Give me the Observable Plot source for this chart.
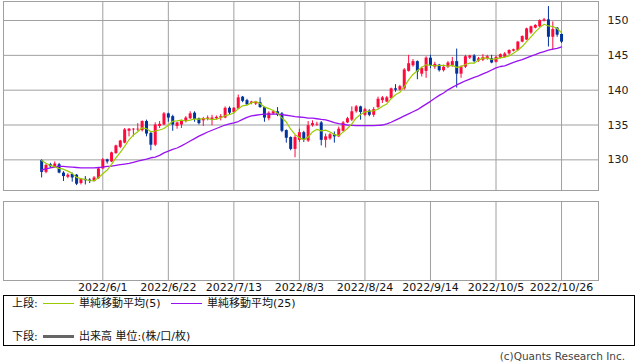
<!DOCTYPE html>
<html>
<head>
<meta charset="utf-8">
<script src="https://cdn.jsdelivr.net/npm/d3@7"></script>
<script src="https://cdn.jsdelivr.net/npm/@observablehq/plot@0.6"></script>
<style>
  html, body { margin: 0; padding: 0; background: #fff; }
  #wrap { position: relative; width: 638px; height: 362px; overflow: hidden; }
  #wrap svg { display: block; }
  .legend { position: absolute; left: 3px; top: 295px; width: 630px; height: 49px; border: 1px solid #000; box-sizing: content-box; font-family: "DejaVu Sans", "Noto Sans CJK JP", sans-serif; font-size: 11px; color: #111; }
  .lg { position: absolute; white-space: nowrap; line-height: 14px; }
  .sw { position: absolute; }
  .copy { position: absolute; right: 13px; top: 350px; font-family: "DejaVu Sans", sans-serif; font-size: 10.5px; color: #444; white-space: nowrap; }
</style>
</head>
<body>
<div id="wrap"></div>
<script>
// ---- data (daily candles, trading-day index 0 = first bar) ----
const open = [129.9,128.2,129.3,129.0,129.3,128.1,127.5,127.9,127.8,126.6,
127.2,127.1,126.9,127.3,128.7,130.0,129.7,130.9,131.8,132.4,
134.1,134.3,134.3,134.2,135.5,133.8,132.1,134.8,135.0,136.6,
136.2,134.8,135.0,135.5,135.9,136.7,135.9,135.6,135.8,135.8,
135.9,136.0,136.0,137.4,136.8,137.3,139.0,138.5,138.1,138.0,
138.2,137.5,135.9,136.6,136.9,136.6,134.2,133.2,131.5,132.8,
133.9,132.7,134.9,135.0,135.3,132.8,133.0,133.6,133.3,134.1,
135.3,135.7,136.9,137.6,136.4,137.0,136.4,137.5,138.5,138.3,
138.8,140.2,140.0,140.2,142.7,143.5,144.1,142.3,142.7,144.6,
143.3,143.6,142.8,143.3,143.5,144.1,142.3,143.3,144.6,144.9,
144.2,144.3,144.5,144.5,144.0,144.6,144.7,145.2,145.6,145.7,
146.9,147.2,148.2,148.9,149.1,149.9,150.1,147.6,148.9,148.0];

const high = [130.0,129.4,129.5,129.7,129.5,128.3,128.0,128.1,127.9,127.3,
127.6,127.3,127.6,128.8,130.2,130.1,131.1,132.1,132.8,134.5,
134.5,134.5,135.2,135.6,135.7,134.0,135.3,135.5,136.8,136.7,
136.4,135.4,135.7,136.2,136.9,136.9,136.0,136.1,136.3,136.4,
136.3,136.5,137.6,137.6,137.5,139.3,139.1,138.7,138.4,138.4,
138.9,137.6,136.9,137.1,137.5,136.8,134.3,133.3,133.5,134.4,
134.1,135.5,135.6,135.4,135.5,133.7,133.8,134.0,134.7,135.5,
136.1,137.6,137.8,137.7,137.4,137.2,137.5,139.0,139.1,139.1,
140.3,140.8,140.7,143.1,145.0,144.4,144.2,143.3,144.8,145.0,
144.0,143.7,143.6,144.1,144.7,145.9,143.5,145.0,145.0,145.1,
144.7,145.1,145.0,145.0,144.9,145.2,145.4,145.8,145.9,147.0,
147.8,148.9,149.2,149.4,150.1,150.3,152.0,149.8,149.0,148.1];

const low = [127.4,128.0,128.8,128.8,128.0,126.9,127.3,126.8,126.3,126.4,
126.4,126.6,126.8,127.2,128.6,129.4,129.6,130.8,131.6,132.3,
133.3,133.3,134.1,134.0,133.3,131.3,131.9,134.5,134.9,135.4,
134.1,134.4,134.5,135.3,135.8,135.4,135.0,134.8,135.6,134.9,
135.7,135.6,135.9,136.5,136.6,137.2,138.2,137.8,137.9,137.8,
137.4,135.4,135.6,136.4,136.2,133.9,132.4,131.3,130.3,132.5,
132.5,132.5,134.7,134.8,132.0,131.7,132.8,132.4,133.2,134.0,
135.2,135.5,136.7,135.7,136.2,136.2,136.1,137.3,138.1,138.2,
138.7,139.7,139.9,140.0,142.6,143.3,141.5,141.9,141.7,143.1,
143.0,142.6,142.6,143.1,143.3,140.3,141.7,143.1,144.4,143.9,
144.0,144.1,144.3,143.8,143.9,144.5,144.6,145.0,145.5,145.6,
146.8,147.1,148.0,148.8,149.0,149.8,146.2,145.7,147.6,146.7];

const close = [128.2,129.2,129.0,129.4,128.1,127.6,127.8,127.4,126.5,127.2,
127.0,126.9,127.4,128.7,130.0,129.7,131.0,132.0,132.7,134.3,
134.4,134.4,134.4,135.5,133.7,132.1,135.0,135.1,136.6,136.0,
135.0,135.3,135.6,136.0,136.6,135.8,135.2,135.9,136.0,136.0,
136.1,136.2,137.4,136.7,137.4,138.9,138.4,137.9,138.3,138.3,
137.5,136.0,136.7,136.9,136.4,134.1,133.1,131.5,133.2,133.9,
132.8,134.9,135.2,135.1,132.8,133.3,133.6,133.3,134.4,135.3,
135.9,136.9,137.6,136.8,137.2,136.4,137.2,138.7,138.9,138.9,
140.2,140.0,140.5,142.9,143.8,144.1,142.6,143.1,144.6,143.5,
143.7,142.8,143.3,143.9,144.1,142.3,143.3,144.8,144.9,144.1,
144.5,144.7,144.8,143.9,144.7,145.1,145.2,145.7,145.8,146.9,
147.7,148.8,149.1,149.3,150.0,150.1,147.6,148.7,147.9,146.9];

const ma5 = [129.9,129.5,129.2,129.0,128.78,128.66,128.38,128.06,127.48,127.30,
127.18,127.00,127.00,127.44,128.00,128.54,129.36,130.28,131.08,131.94,
132.88,133.56,134.04,134.60,134.48,134.02,134.14,134.28,134.50,134.96,
135.54,135.60,135.70,135.58,135.70,135.86,135.84,135.90,135.90,135.78,
135.84,136.04,136.34,136.48,136.76,137.32,137.76,137.86,138.18,138.36,
138.08,137.60,137.36,137.08,136.70,136.02,135.44,134.40,133.66,133.16,
132.90,133.26,134.00,134.38,134.16,134.26,134.00,133.62,133.48,133.98,
134.50,135.16,136.02,136.50,136.88,136.98,137.04,137.26,137.68,138.02,
138.78,139.34,139.70,140.50,141.48,142.26,142.78,143.30,143.64,143.58,
143.50,143.54,143.58,143.44,143.56,143.28,143.38,143.68,143.88,143.88,
144.32,144.60,144.60,144.40,144.52,144.64,144.74,144.92,145.30,145.74,
146.26,146.98,147.66,148.36,148.98,149.46,149.22,149.14,148.86,148.24];

const ma25 = [128.56,128.7,128.85,128.95,129.05,129.05,129.0,128.95,128.9,128.85,
128.85,128.85,128.85,128.9,128.95,129.05,129.1,129.2,129.3,129.4,
129.5,129.65,129.8,129.95,130.1,130.3,130.4,130.65,131.0,131.25,
131.5,131.7,132.0,132.35,132.7,133.05,133.4,133.7,134.0,134.25,
134.5,134.75,135.0,135.15,135.3,135.5,135.8,136.1,136.3,136.4,
136.5,136.55,136.55,136.55,136.55,136.5,136.4,136.3,136.2,136.15,
136.1,136.0,136.0,135.9,135.8,135.75,135.55,135.35,135.2,135.1,
135.0,134.95,134.9,134.9,134.9,134.9,134.9,134.95,135.0,135.15,
135.4,135.7,136.0,136.3,136.6,136.9,137.2,137.6,138.0,138.4,
138.85,139.25,139.6,140.05,140.4,140.75,141.05,141.35,141.6,141.85,
142.05,142.35,142.6,142.9,143.2,143.4,143.5,143.75,144.0,144.2,
144.4,144.65,144.9,145.1,145.35,145.55,145.75,145.9,146.0,146.2];

const tickIdx = [14, 29, 44, 59, 74, 89, 104, 119];
const dateLabels = ["2022/6/1","2022/6/22","2022/7/13","2022/8/3","2022/8/24","2022/9/14","2022/10/5","2022/10/26"];
const yTicks = [130, 135, 140, 145, 150];

// ---- styling ----
const RED = "#ff0a3c", BLUE = "#00339c", GREEN = "#99cc00", PURPLE = "#9a12f2", GRID = "#a0a0a0";
const xDomain = [-8.73, 127.46];

const rows = close.map((c, i) => ({i, o: open[i], h: high[i], l: low[i], c, m5: ma5[i], m25: ma25[i], up: c >= open[i]}));

const upperPanel = Plot.plot({
  width: 638, height: 192,
  marginTop: 1, marginBottom: 2, marginLeft: 3, marginRight: 40,
  style: {fontFamily: "DejaVu Sans", fontSize: "11px", color: "#222", background: "#fff"},
  x: {type: "linear", domain: xDomain, axis: null},
  y: {domain: [125.6, 152.73], axis: null},
  marks: [
    Plot.ruleY(yTicks, {stroke: GRID, strokeWidth: 1}),
    Plot.ruleX(tickIdx, {stroke: GRID, strokeWidth: 1}),
    Plot.frame({stroke: GRID}),
    Plot.ruleX(rows, {filter: d => d.up, x: "i", y1: "l", y2: "h", stroke: RED, strokeWidth: 1}),
    Plot.ruleX(rows, {filter: d => !d.up, x: "i", y1: "l", y2: "h", stroke: BLUE, strokeWidth: 1}),
    Plot.ruleX(rows, {filter: d => d.up, x: "i", y1: "o", y2: "c", stroke: RED, strokeWidth: 3}),
    Plot.ruleX(rows, {filter: d => !d.up, x: "i", y1: "o", y2: "c", stroke: BLUE, strokeWidth: 3}),
    Plot.lineY(rows, {x: "i", y: "m25", stroke: PURPLE, strokeWidth: 1.3}),
    Plot.lineY(rows, {x: "i", y: "m5", stroke: GREEN, strokeWidth: 1.2}),
    Plot.axisY(yTicks, {anchor: "right", tickSize: 0, tickPadding: 9, fontSize: 11, fill: "#222"})
  ]
});

const lowerPanel = Plot.plot({
  width: 638, height: 103,
  marginTop: 9, marginBottom: 15, marginLeft: 3, marginRight: 40,
  style: {fontFamily: "DejaVu Sans", fontSize: "11px", color: "#111", background: "#fff"},
  x: {type: "linear", domain: xDomain, axis: null},
  y: {domain: [0, 1], axis: null},
  marks: [
    Plot.ruleX(tickIdx, {stroke: GRID, strokeWidth: 1}),
    Plot.frame({stroke: GRID}),
    Plot.axisX(tickIdx, {anchor: "bottom", tickSize: 0, tickPadding: 3, fontSize: 11, fill: "#111",
      tickFormat: d => dateLabels[tickIdx.indexOf(d)]})
  ]
});

const wrap = document.getElementById("wrap");
wrap.appendChild(upperPanel);
wrap.appendChild(lowerPanel);

// ---- legend (HTML text) ----
const legend = document.createElement("div");
legend.className = "legend";
legend.innerHTML = `
  <div class="lg" style="left:8px;top:1px;">上段:</div>
  <div class="sw" style="left:39px;top:7px;width:31px;height:1px;background:${GREEN};"></div>
  <div class="lg" style="left:75px;top:1px;">単純移動平均(5)</div>
  <div class="sw" style="left:167px;top:7px;width:31px;height:1px;background:${PURPLE};"></div>
  <div class="lg" style="left:203px;top:1px;">単純移動平均(25)</div>
  <div class="lg" style="left:8px;top:34px;">下段:</div>
  <div class="sw" style="left:39px;top:39px;width:31px;height:3px;background:#666;"></div>
  <div class="lg" style="left:75px;top:34px;">出来高 単位:(株/口/枚)</div>
`;
wrap.appendChild(legend);

const copyEl = document.createElement("div");
copyEl.className = "copy";
copyEl.textContent = "(c)Quants Research Inc.";
wrap.appendChild(copyEl);
</script>
</body>
</html>
